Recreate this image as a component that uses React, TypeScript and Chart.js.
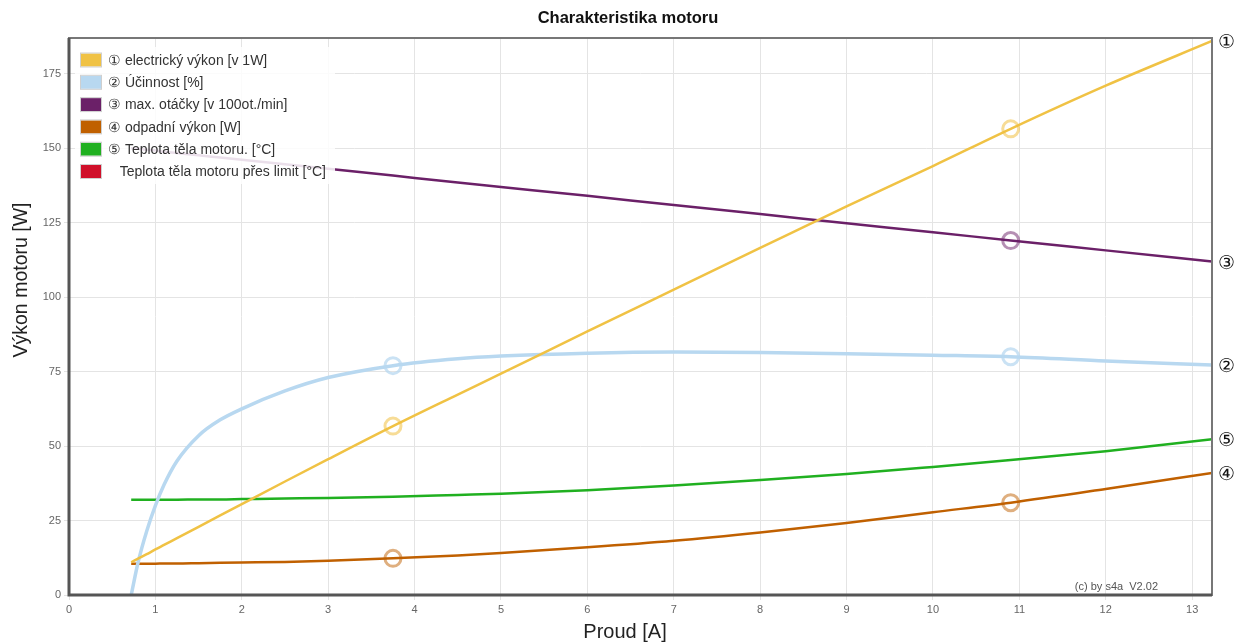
import { useEffect, useRef } from "react";
import { Chart, registerables } from "chart.js";

Chart.register(...registerables);

const current = [0.72, 0.8, 0.9, 1.0, 1.1, 1.25, 1.5, 1.75, 2.0, 2.5, 3.0, 3.75, 4.5, 5, 6, 7, 8, 9, 10, 10.9, 12, 13.23];
const electricPower = [11, 12.2, 13.7, 15.3, 16.8, 19.1, 22.9, 26.7, 30.5, 38.1, 45.6, 56.7, 67.3, 74.3, 88.5, 102.5, 116.5, 130.5, 144, 156.5, 171, 186];
const efficiency = [0, 11, 21.5, 30, 37, 45, 53.5, 58.8, 62.5, 68.5, 73, 77, 79.3, 80.2, 81.2, 81.6, 81.4, 81, 80.5, 80, 78.6, 77.2];
const maxRpm = [150.0, 149.8, 149.5, 149.2, 148.8, 148.4, 147.6, 146.9, 146.1, 144.6, 143.1, 140.8, 138.5, 137.0, 134.0, 130.9, 127.9, 124.8, 121.8, 119.0, 115.7, 112.0];
const wastePower = [10.5, 10.5, 10.5, 10.5, 10.6, 10.6, 10.7, 10.8, 10.9, 11.1, 11.5, 12.3, 13.3, 14.1, 16, 18.2, 21, 24.2, 27.8, 31, 35.6, 41];
const bodyTemp = [32, 32, 32, 32, 32, 32, 32.1, 32.1, 32.2, 32.4, 32.6, 33, 33.6, 34, 35.2, 36.8, 38.6, 40.6, 43, 45.3, 48.3, 52.3];
const bodyTempOverLimit: number[] = [];

const markersElectric = [3.75, 10.9];
const markersEfficiency = [3.75, 10.9];
const markersRpm = [10.9];
const markersWaste = [3.75, 10.9];
const markersTemp: number[] = [];

const seriesLabels = [
  "① electrický výkon [v 1W]",
  "② Účinnost [%]",
  "③ max. otáčky [v 100ot./min]",
  "④ odpadní výkon [W]",
  "⑤ Teplota těla motoru. [°C]",
  "   Teplota těla motoru přes limit [°C]",
];
const endTags = ["①", "②", "③", "④", "⑤", ""];
const seriesColors = ["#f0c244", "#b8d8f0", "#6b2068", "#c06000", "#20b020", "#d0102a"];
const markerColors = [
  "rgba(240,192,64,0.55)",
  "rgba(184,216,240,0.75)",
  "rgba(107,32,104,0.5)",
  "rgba(192,96,0,0.5)",
  "rgba(32,176,32,0.5)",
  "rgba(208,16,42,0.5)",
];

const chartTitle = "Charakteristika motoru";
const xTitle = "Proud [A]";
const yTitle = "Výkon motoru [W]";
const copyright = "(c) by s4a  V2.02";
const xTicksMax = 13.23;
const yTicksMax = 187;

const FONT = "Arial, 'Liberation Sans', sans-serif";

export default function App() {
  const ref = useRef<HTMLCanvasElement | null>(null);

  useEffect(() => {
    if (!ref.current) return;
    const seriesValues = [electricPower, efficiency, maxRpm, wastePower, bodyTemp, bodyTempOverLimit];
    const seriesMarkers = [markersElectric, markersEfficiency, markersRpm, markersWaste, markersTemp, []];

    const datasets = seriesValues.map((vals, si) => ({
      label: seriesLabels[si],
      data: vals.map((v, i) => ({ x: current[i], y: v })),
      borderColor: seriesColors[si],
      backgroundColor: seriesColors[si],
      borderWidth: si === 1 ? 3.5 : 2.5,
      cubicInterpolationMode: "monotone" as const,
      tension: 0.4,
      pointRadius: vals.map((_, i) => (seriesMarkers[si].includes(current[i]) ? 8 : 0)),
      pointHoverRadius: 0,
      pointBorderWidth: 3,
      pointBorderColor: markerColors[si],
      pointBackgroundColor: "rgba(0,0,0,0)",
      fill: false,
    }));

    const decor = {
      id: "decor",
      beforeDraw(chart: any) {
        const { ctx } = chart;
        ctx.save();
        ctx.fillStyle = "#ffffff";
        ctx.fillRect(0, 0, chart.width, chart.height);
        ctx.restore();
      },
      afterDatasetsDraw(chart: any) {
        const { ctx, chartArea } = chart;
        const ys = chart.scales.y;
        // legend
        ctx.save();
        ctx.fillStyle = "rgba(255,255,255,0.86)";
        ctx.fillRect(chartArea.left + 6, chartArea.top + 9, 260, 137);
        ctx.font = `14px ${FONT}`;
        ctx.textBaseline = "middle";
        ctx.textAlign = "left";
        chart.data.datasets.forEach((ds: any, i: number) => {
          const cy = chartArea.top + 22 + i * 22.3;
          const sx = chartArea.left + 12;
          ctx.fillStyle = ds.borderColor;
          ctx.fillRect(sx, cy - 6.5, 20, 13);
          ctx.strokeStyle = "#cfcfcf";
          ctx.lineWidth = 1;
          ctx.strokeRect(sx - 0.5, cy - 7, 21, 14);
          ctx.fillStyle = "#333333";
          ctx.fillText(ds.label, sx + 27, cy + 1);
        });
        ctx.restore();
        // end tags
        ctx.save();
        ctx.font = `19px ${FONT}`;
        ctx.fillStyle = "#111111";
        ctx.textAlign = "center";
        ctx.textBaseline = "middle";
        chart.data.datasets.forEach((ds: any, i: number) => {
          if (!endTags[i] || ds.data.length === 0) return;
          const last = ds.data[ds.data.length - 1];
          ctx.fillText(endTags[i], chartArea.right + 14, ys.getPixelForValue(last.y) + 2);
        });
        ctx.restore();
      },
      afterDraw(chart: any) {
        const { ctx, chartArea } = chart;
        ctx.save();
        ctx.strokeStyle = "#777777";
        ctx.lineWidth = 2;
        ctx.strokeRect(chartArea.left, chartArea.top, chartArea.right - chartArea.left, chartArea.bottom - chartArea.top);
        ctx.beginPath();
        ctx.strokeStyle = "#555555";
        ctx.lineWidth = 3;
        ctx.moveTo(chartArea.left, chartArea.top);
        ctx.lineTo(chartArea.left, chartArea.bottom);
        ctx.lineTo(chartArea.right, chartArea.bottom);
        ctx.stroke();
        // copyright
        ctx.font = `11px ${FONT}`;
        ctx.fillStyle = "#555555";
        ctx.textAlign = "right";
        ctx.textBaseline = "middle";
        ctx.fillText(copyright, chartArea.right - 54, chartArea.bottom - 8);
        // chart title
        ctx.font = `bold 16.5px ${FONT}`;
        ctx.fillStyle = "#111111";
        ctx.textAlign = "center";
        ctx.fillText(chartTitle, 628, 18);
        // axis titles
        ctx.font = `20px ${FONT}`;
        ctx.fillStyle = "#222222";
        ctx.fillText(xTitle, 625, 632);
        ctx.translate(22, 280);
        ctx.rotate(-Math.PI / 2);
        ctx.font = `19.5px ${FONT}`;
        ctx.fillText(yTitle, 0, 0);
        ctx.restore();
      },
    };

    const chart = new Chart(ref.current, {
      type: "line",
      data: { datasets },
      options: {
        animation: false,
        responsive: true,
        maintainAspectRatio: false,
        layout: { padding: { left: 0, right: 25, top: 38, bottom: 0 } },
        plugins: {
          legend: { display: false },
          tooltip: { enabled: false },
          title: { display: false },
        },
        scales: {
          x: {
            type: "linear",
            min: 0,
            max: xTicksMax,
            afterFit(scale: any) {
              scale.height = 49;
            },
            ticks: {
              stepSize: 1,
              includeBounds: false,
              color: "#666666",
              font: { family: FONT, size: 11 },
              padding: 3,
              maxRotation: 0,
            },
            grid: { color: "#e4e4e4", tickLength: 5, tickColor: "#e4e4e4", lineWidth: 1 },
            border: { display: false },
          },
          y: {
            type: "linear",
            min: 0,
            max: yTicksMax,
            afterFit(scale: any) {
              scale.width = 69;
            },
            ticks: {
              stepSize: 25,
              includeBounds: false,
              color: "#666666",
              font: { family: FONT, size: 11 },
              padding: 3,
            },
            grid: { color: "#e4e4e4", tickLength: 5, tickColor: "#e4e4e4", lineWidth: 1 },
            border: { display: false },
          },
        },
      } as any,
      plugins: [decor],
    });
    return () => chart.destroy();
  }, []);

  return (
    <div style={{ position: "fixed", left: 0, top: 0, width: 1237, height: 644 }}>
      <canvas ref={ref} />
    </div>
  );
}
